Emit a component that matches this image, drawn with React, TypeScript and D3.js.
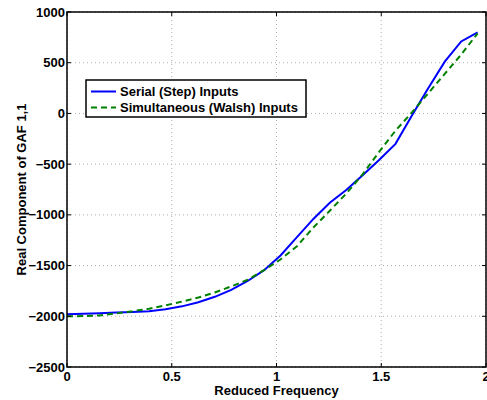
import React from "react";
import * as d3 from "d3";

const freq = d3.range(26).map((i) => +(i * 0.0784).toFixed(4));
const serial = [
  -1980, -1975, -1970, -1962, -1958, -1950, -1930, -1902, -1862, -1808, -1740, -1652, -1545,
  -1400, -1220, -1040, -880, -755, -610, -460, -300, -20, 250, 510, 710, 800,
];
const walsh = [
  -2000, -1998, -1992, -1972, -1950, -1925, -1892, -1855, -1815, -1765, -1705, -1640, -1545,
  -1440, -1310, -1125, -960, -790, -600, -380, -170, 10, 200, 390, 580, 790,
];
const xTicks = [0, 0.5, 1, 1.5, 2];
const yTicks = [-2500, -2000, -1500, -1000, -500, 0, 500, 1000];
const seriesNames = ["Serial (Step) Inputs", "Simultaneous (Walsh) Inputs"];

const W = 487;
const H = 400;
const L = 67;
const R = 486;
const T = 12;
const B = 367;

export default function App() {
  const x = d3.scaleLinear().domain([0, 2]).range([L, R]);
  const y = d3.scaleLinear().domain([-2500, 1000]).range([B, T]);
  const line = d3
    .line<number>()
    .x((_, i) => x(freq[i]))
    .y((d) => y(d));
  const font = "'Liberation Sans', Arial, Helvetica, sans-serif";
  const fmt = (v: number) => (v < 0 ? "\u2212" + Math.abs(v) : String(v));
  return (
    <div style={{ position: "absolute", left: 0, top: 0 }}>
      <svg width={W} height={H} style={{ display: "block", background: "#fff" }}>
        <rect x={0} y={0} width={W} height={H} fill="#fff" />
        {xTicks.map((t) => (
          <line key={"gx" + t} x1={x(t)} x2={x(t)} y1={T} y2={B} stroke="#b0b0b0" strokeWidth={1} strokeDasharray="1,3" />
        ))}
        {yTicks.map((t) => (
          <line key={"gy" + t} x1={L} x2={R} y1={y(t)} y2={y(t)} stroke="#b0b0b0" strokeWidth={1} strokeDasharray="1,3" />
        ))}
        <path d={line(serial) || ""} fill="none" stroke="#0000ff" strokeWidth={2} />
        <path d={line(walsh) || ""} fill="none" stroke="#008000" strokeWidth={2} strokeDasharray="6,4" />
        <rect x={L} y={T} width={R - L} height={B - T} fill="none" stroke="#000" strokeWidth={1.5} />
        {xTicks.map((t) => (
          <g key={"tx" + t}>
            <line x1={x(t)} x2={x(t)} y1={B} y2={B - 4} stroke="#000" />
            <line x1={x(t)} x2={x(t)} y1={T} y2={T + 4} stroke="#000" />
            <text x={x(t)} y={381} textAnchor="middle" fontFamily={font} fontWeight="bold" fontSize={13} fill="#000">
              {String(t)}
            </text>
          </g>
        ))}
        {yTicks.map((t) => (
          <g key={"ty" + t}>
            <line x1={L} x2={L + 4} y1={y(t)} y2={y(t)} stroke="#000" />
            <line x1={R} x2={R - 4} y1={y(t)} y2={y(t)} stroke="#000" />
            <text x={65} y={y(t) + 4.5} textAnchor="end" fontFamily={font} fontWeight="bold" fontSize={13} fill="#000">
              {fmt(t)}
            </text>
          </g>
        ))}
        <text x={(L + R) / 2} y={395} textAnchor="middle" fontFamily={font} fontWeight="bold" fontSize={13} fill="#000">
          Reduced Frequency
        </text>
        <text
          transform={`translate(26,${(T + B) / 2}) rotate(-90)`}
          textAnchor="middle"
          fontFamily={font}
          fontWeight="bold"
          fontSize={13}
          fill="#000"
        >
          Real Component of GAF 1,1
        </text>
        <g>
          <rect x={86} y={80} width={220} height={37} fill="#fff" stroke="#000" strokeWidth={1.5} />
          <line x1={91} x2={116} y1={91.5} y2={91.5} stroke="#0000ff" strokeWidth={2} />
          <line x1={91} x2={116} y1={107.5} y2={107.5} stroke="#008000" strokeWidth={2} strokeDasharray="6,4" />
          <text x={120} y={96} fontFamily={font} fontWeight="bold" fontSize={13} fill="#000">
            {seriesNames[0]}
          </text>
          <text x={120} y={112} fontFamily={font} fontWeight="bold" fontSize={13} fill="#000">
            {seriesNames[1]}
          </text>
        </g>
      </svg>
    </div>
  );
}
